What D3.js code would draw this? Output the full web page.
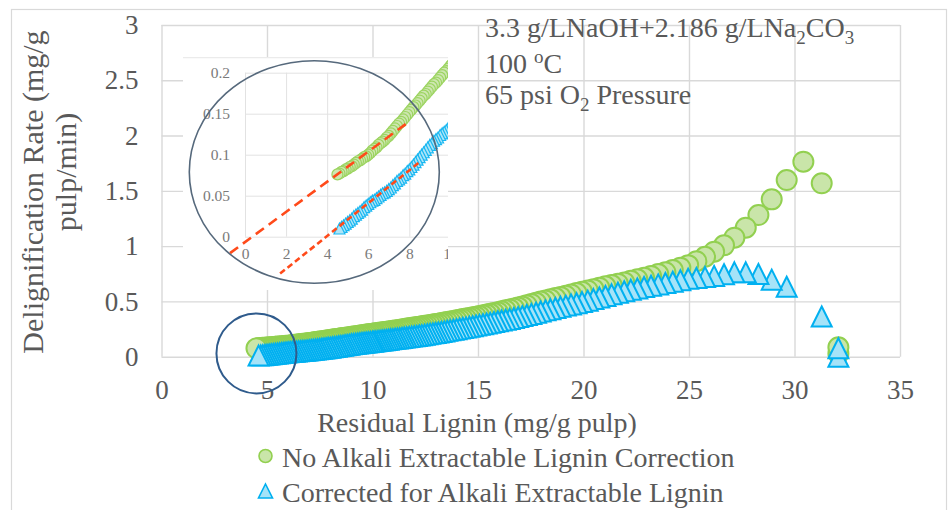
<!DOCTYPE html>
<html>
<head>
<meta charset="utf-8">
<script src="https://cdn.jsdelivr.net/npm/d3@7/dist/d3.min.js"></script>
<style>
  html, body { margin: 0; padding: 0; background: #fff; }
  svg { display: block; }
</style>
</head>
<body>
<div id="chart"></div>
<script>
// residual lignin (mg/g pulp), low -> high
var lignin = [
  4.5, 4.6, 4.7, 4.8, 4.9, 5.0, 5.1, 5.2, 5.3, 5.4, 5.5, 5.6, 5.7, 5.8, 5.9, 6.0, 6.1, 6.2, 6.3, 6.4,
  6.5, 6.6, 6.7, 6.8, 6.9, 7.0, 7.1, 7.2, 7.3, 7.4, 7.5, 7.6, 7.7, 7.8, 7.9, 8.0, 8.1, 8.2, 8.3, 8.4,
  8.5, 8.6, 8.7, 8.8, 8.9, 9.0, 9.1, 9.2, 9.3, 9.4, 9.5, 9.6, 9.7, 9.8, 9.9, 10.0,
  10.07, 10.16, 10.26, 10.36, 10.46, 10.56, 10.66, 10.76, 10.86, 10.96,
  11.07, 11.18, 11.29, 11.40, 11.51, 11.62, 11.74, 11.86, 11.98,
  12.10, 12.22, 12.34, 12.47, 12.60, 12.73, 12.86, 12.99,
  13.12, 13.26, 13.40, 13.54, 13.68, 13.83, 13.98,
  14.13, 14.28, 14.43, 14.59, 14.75, 14.91,
  15.07, 15.24, 15.41, 15.58, 15.76, 15.94,
  16.12, 16.31, 16.50, 16.70, 16.90,
  17.10, 17.31, 17.53, 17.75, 17.97,
  18.20, 18.43, 18.67, 18.91,
  19.16, 19.41, 19.67, 19.93,
  20.20, 20.47, 20.75,
  21.04, 21.33, 21.63, 21.93,
  22.24, 22.55, 22.87,
  23.20, 23.54, 23.88,
  24.23, 24.59, 24.96,
  25.35, 25.76,
  26.19, 26.66, 27.15, 27.69, 28.29, 28.92, 29.63, 30.42, 31.29, 32.08, 32.08
];
// delignification rate, no alkali extractable lignin correction (mg/g pulp/min)
var rateUncorrected = [
  0.076, 0.077, 0.079, 0.080, 0.082, 0.083, 0.085, 0.086, 0.088, 0.090, 0.092, 0.093, 0.095, 0.097, 0.098, 0.100, 0.102, 0.105, 0.107, 0.109,
  0.112, 0.114, 0.116, 0.118, 0.121, 0.123, 0.126, 0.129, 0.132, 0.135, 0.138, 0.140, 0.143, 0.146, 0.149, 0.152, 0.155, 0.158, 0.160, 0.163,
  0.166, 0.169, 0.172, 0.174, 0.177, 0.180, 0.183, 0.186, 0.188, 0.191, 0.194, 0.197, 0.200, 0.202, 0.205, 0.208,
  0.210, 0.212, 0.215, 0.218, 0.220, 0.223, 0.226, 0.229, 0.231, 0.234,
  0.237, 0.240, 0.244, 0.247, 0.250, 0.254, 0.257, 0.261, 0.264,
  0.268, 0.272, 0.275, 0.279, 0.283, 0.287, 0.291, 0.295,
  0.299, 0.304, 0.309, 0.314, 0.319, 0.324, 0.329,
  0.335, 0.340, 0.345, 0.351, 0.356, 0.362,
  0.368, 0.375, 0.381, 0.388, 0.395, 0.403,
  0.410, 0.419, 0.428, 0.437, 0.446,
  0.455, 0.466, 0.477, 0.488, 0.499,
  0.509, 0.519, 0.530, 0.541,
  0.552, 0.563, 0.575, 0.587,
  0.599, 0.611, 0.624,
  0.637, 0.648, 0.660, 0.672,
  0.686, 0.700, 0.714,
  0.730, 0.747, 0.764,
  0.784, 0.805, 0.828,
  0.864, 0.904,
  0.950, 1.007, 1.076, 1.167, 1.281, 1.423, 1.598, 1.764, 1.568, 0.085, 0.030
];
// delignification rate, corrected for alkali extractable lignin
var rateCorrected = [
  null, 0.010, 0.012, 0.014, 0.016, 0.018, 0.020, 0.022, 0.025, 0.027, 0.029, 0.031, 0.033, 0.036, 0.038, 0.040, 0.042, 0.044, 0.045, 0.047,
  0.049, 0.051, 0.053, 0.054, 0.056, 0.058, 0.060, 0.063, 0.065, 0.068, 0.070, 0.072, 0.075, 0.077, 0.080, 0.082, 0.085, 0.088, 0.091, 0.094,
  0.097, 0.100, 0.103, 0.106, 0.109, 0.112, 0.114, 0.117, 0.119, 0.121, 0.124, 0.126, 0.128, 0.130, 0.133, 0.135,
  0.137, 0.139, 0.142, 0.144, 0.147, 0.149, 0.152, 0.154, 0.157, 0.159,
  0.162, 0.165, 0.167, 0.170, 0.173, 0.176, 0.179, 0.182, 0.185,
  0.188, 0.192, 0.195, 0.199, 0.203, 0.207, 0.211, 0.215,
  0.219, 0.224, 0.229, 0.234, 0.239, 0.244, 0.249,
  0.255, 0.260, 0.265, 0.271, 0.276, 0.282,
  0.288, 0.294, 0.300, 0.306, 0.313, 0.320,
  0.327, 0.334, 0.342, 0.350, 0.358,
  0.367, 0.377, 0.387, 0.398, 0.409,
  0.419, 0.429, 0.440, 0.451,
  0.462, 0.473, 0.484, 0.494,
  0.507, 0.521, 0.535,
  0.550, 0.564, 0.578, 0.592,
  0.605, 0.617, 0.630,
  0.642, 0.654, 0.666,
  0.678, 0.691, 0.704,
  0.712, 0.720,
  0.731, 0.746, 0.763, 0.763, 0.748, 0.697, 0.632, null, 0.364, 0.076, 0.000
];
var xTicks = [0, 5, 10, 15, 20, 25, 30, 35];
var yTicks = [0, 0.5, 1, 1.5, 2, 2.5, 3];
var insetXTicks = [0, 2, 4, 6, 8, 10];
var insetYTicks = [0, 0.05, 0.1, 0.15, 0.2];
// dashed linear fits drawn in the zoomed inset (inset data units)
var fitUncorrected = [[-0.73, -0.020], [7.97, 0.140]];
var fitCorrected = [[1.71, -0.045], [8.45, 0.090]];
var legendLabels = ["No Alkali Extractable Lignin Correction", "Corrected for Alkali Extractable Lignin"];
var xTitle = "Residual Lignin (mg/g pulp)";
var yTitle = ["Delignification Rate (mg/g", "pulp/min)"];

var FONT = "Liberation Serif, Times New Roman, serif";
var TXT = "#595959", GRID = "#d9d9d9";
var GREEN_F = "#c9e5a9", GREEN_S = "#92d050", BLUE_F = "#a5e3f8", BLUE_S = "#00b0f0";

var W = 948, H = 510;
var svg = d3.select("#chart").append("svg").attr("width", W).attr("height", H)
  .attr("font-family", FONT);

// chart frame
svg.append("rect").attr("x", 11.5).attr("y", 9.5).attr("width", 935).attr("height", 520)
  .attr("fill", "none").attr("stroke", GRID).attr("stroke-width", 1.2);

var x = d3.scaleLinear().domain([0, 35]).range([161.5, 900]);
var y = d3.scaleLinear().domain([0, 3]).range([356.7, 25]);

function tri(s) { return "M0," + (-s) + "L" + s + "," + s + "L" + (-s) + "," + s + "Z"; }

function styleAxis(g, size, color, grid, gw) {
  g.select(".domain").remove();
  g.attr("font-family", FONT).attr("font-size", size);
  g.selectAll(".tick line").attr("stroke", grid).attr("stroke-width", gw);
  g.selectAll(".tick text").attr("fill", color);
}

// gridlines + tick labels
var gy = svg.append("g").attr("transform", "translate(" + x(0) + ",0)")
  .call(d3.axisLeft(y).tickValues(yTicks).tickSize(-(x(35) - x(0))).tickPadding(23)
    .tickFormat(function (d) { return String(d); }));
styleAxis(gy, 27, TXT, GRID, 1.4);
var gx = svg.append("g").attr("transform", "translate(0," + y(0) + ")")
  .call(d3.axisBottom(x).tickValues(xTicks).tickSize(-(y(0) - y(3))).tickPadding(23)
    .tickFormat(function (d) { return String(d); }));
styleAxis(gx, 27, TXT, GRID, 1.4);

// points in time order (lignin falls as the run goes on), so the low end is drawn last
var pts = lignin.map(function (l, i) { return { l: l, u: rateUncorrected[i], c: rateCorrected[i] }; }).reverse();
var ptsU = pts.filter(function (d) { return d.u != null; });
var ptsC = pts.filter(function (d) { return d.c != null; });

svg.append("g").selectAll("circle").data(ptsU).join("circle")
  .attr("cx", function (d) { return x(d.l); }).attr("cy", function (d) { return y(d.u); })
  .attr("r", 10).attr("fill", GREEN_F).attr("stroke", GREEN_S).attr("stroke-width", 2);
svg.append("g").selectAll("path").data(ptsC).join("path")
  .attr("transform", function (d) { return "translate(" + x(d.l) + "," + y(d.c) + ")"; })
  .attr("d", tri(10)).attr("fill", BLUE_F).attr("stroke", BLUE_S).attr("stroke-width", 2)
  .attr("stroke-linejoin", "miter");

// highlight ring round the low-lignin end
svg.append("circle").attr("cx", x(4.5)).attr("cy", y(0.03)).attr("r", 40)
  .attr("fill", "none").attr("stroke", "#2f5b8c").attr("stroke-width", 2);

// zoomed inset
var inset = { x: 183, y: 57, w: 265, h: 233 };
var defs = svg.append("defs");
defs.append("clipPath").attr("id", "insetclip").append("rect")
  .attr("x", inset.x).attr("y", inset.y).attr("width", inset.w).attr("height", inset.h);
var ig = svg.append("g").attr("clip-path", "url(#insetclip)");
ig.append("rect").attr("x", inset.x).attr("y", inset.y).attr("width", inset.w).attr("height", inset.h).attr("fill", "#fff");
ig.append("line").attr("x1", inset.x).attr("x2", inset.x + inset.w).attr("y1", inset.y + 0.5).attr("y2", inset.y + 0.5)
  .attr("stroke", "#ebebeb").attr("stroke-width", 1.5);

var ix = d3.scaleLinear().domain([0, 10]).range([245, 450.4]);
var iy = d3.scaleLinear().domain([0, 0.2]).range([236.7, 72.7]);
var igy = ig.append("g").attr("transform", "translate(" + ix(0) + ",0)")
  .call(d3.axisLeft(iy).tickValues(insetYTicks).tickSize(-(ix(10) - ix(0))).tickPadding(15)
    .tickFormat(function (d) { return String(d); }));
styleAxis(igy, 15.5, "#7a7a7a", "#e2e2e2", 1);
var igx = ig.append("g").attr("transform", "translate(0," + iy(0) + ")")
  .call(d3.axisBottom(ix).tickValues(insetXTicks).tickSize(-(iy(0) - iy(0.2))).tickPadding(11)
    .tickFormat(function (d) { return String(d); }));
styleAxis(igx, 15.5, "#7a7a7a", "#e2e2e2", 1);

var ipU = ptsU.filter(function (d) { return d.l <= 10.6; });
var ipC = ptsC.filter(function (d) { return d.l <= 10.6; });
ig.append("g").attr("opacity", 0.9).selectAll("circle").data(ipU).join("circle")
  .attr("cx", function (d) { return ix(d.l); }).attr("cy", function (d) { return iy(d.u); })
  .attr("r", 5.5).attr("fill", GREEN_F).attr("stroke", GREEN_S).attr("stroke-width", 1.2);
ig.append("g").attr("opacity", 0.9).selectAll("path").data(ipC).join("path")
  .attr("transform", function (d) { return "translate(" + ix(d.l) + "," + iy(d.c) + ")"; })
  .attr("d", tri(5.5)).attr("fill", BLUE_F).attr("stroke", BLUE_S).attr("stroke-width", 1.2);

var fitLine = d3.line().x(function (d) { return ix(d[0]); }).y(function (d) { return iy(d[1]); });
ig.append("path").attr("d", fitLine(fitUncorrected)).attr("fill", "none")
  .attr("stroke", "#ff4a1a").attr("stroke-width", 2.6).attr("stroke-dasharray", "10 6");
ig.append("path").attr("d", fitLine(fitCorrected)).attr("fill", "none")
  .attr("stroke", "#ff4a1a").attr("stroke-width", 2.6).attr("stroke-dasharray", "6 3.5");

ig.append("ellipse").attr("cx", 314.3).attr("cy", 172).attr("rx", 125).attr("ry", 111.3)
  .attr("fill", "none").attr("stroke", "#56697c").attr("stroke-width", 1.6);

// run conditions
var note = svg.append("g").attr("font-size", 28).attr("fill", TXT);
var l1 = note.append("text").attr("x", 485).attr("y", 37);
l1.append("tspan").text("3.3 g/LNaOH+2.186 g/LNa");
l1.append("tspan").attr("font-size", 19).attr("dy", 7).text("2");
l1.append("tspan").attr("dy", -7).text("CO");
l1.append("tspan").attr("font-size", 19).attr("dy", 7).text("3");
var l2 = note.append("text").attr("x", 485).attr("y", 72.5);
l2.append("tspan").text("100 ");
l2.append("tspan").attr("font-size", 19).attr("dy", -10).text("o");
l2.append("tspan").attr("dy", 10).text("C");
var l3 = note.append("text").attr("x", 485).attr("y", 104);
l3.append("tspan").text("65 psi O");
l3.append("tspan").attr("font-size", 19).attr("dy", 7).text("2");
l3.append("tspan").attr("dy", -7).text(" Pressure");

// axis titles
svg.append("text").attr("x", 477).attr("y", 432).attr("text-anchor", "middle")
  .attr("font-size", 28).attr("fill", TXT).text(xTitle);
svg.append("text").attr("transform", "translate(43,192) rotate(-90)").attr("text-anchor", "middle")
  .attr("font-size", 30).attr("fill", TXT).text(yTitle[0]);
svg.append("text").attr("transform", "translate(76,172) rotate(-90)").attr("text-anchor", "middle")
  .attr("font-size", 30).attr("fill", TXT).text(yTitle[1]);

// legend
var lg = svg.append("g");
lg.append("circle").attr("cx", 265.5).attr("cy", 456).attr("r", 6.5)
  .attr("fill", GREEN_F).attr("stroke", GREEN_S).attr("stroke-width", 1.6);
lg.append("path").attr("transform", "translate(265.5,491)").attr("d", tri(7))
  .attr("fill", BLUE_F).attr("stroke", BLUE_S).attr("stroke-width", 1.6);
lg.selectAll("text").data(legendLabels).join("text")
  .attr("x", 282).attr("y", function (d, i) { return 466.5 + i * 35; })
  .attr("font-size", 28).attr("fill", TXT).text(function (d) { return d; });
</script>
</body>
</html>
